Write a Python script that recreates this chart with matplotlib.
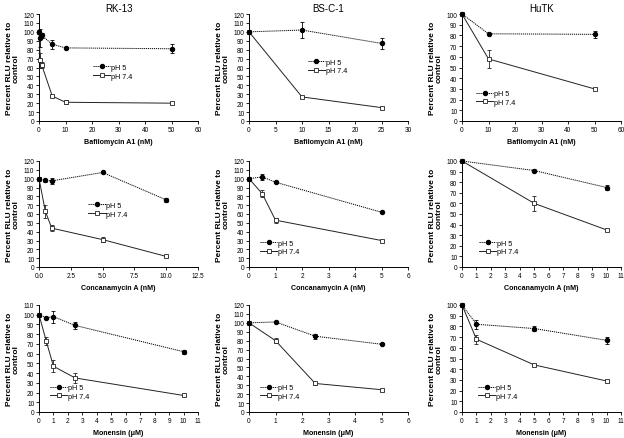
import numpy as np
import matplotlib
matplotlib.use("Agg")
import matplotlib.pyplot as plt

plt.rcParams['font.family'] = ['Liberation Sans', 'DejaVu Sans']

# ---- data ----
cells = ["RK-13", "BS-C-1", "HuTK"]
drugs = ["Bafilomycin A1 (nM)", "Concanamycin A (nM)", "Monensin (\u03bcM)"]
labels = ["pH 5", "pH 7.4"]

# row 1: bafilomycin A1
baf_rk_x = [0, 0.5, 1, 5, 10, 50]
baf_rk_ph5 = [100, 93.5, 96, 86, 82, 81]
baf_rk_ph5_err = [0, 10, 3, 5, 1, 5]
baf_rk_ph74 = [100, 68, 63, 28, 21, 20]
baf_rk_ph74_err = [0, 8, 3, 1, 2, 1]

baf_bs_x = [0, 10, 25]
baf_bs_ph5 = [100, 102, 87]
baf_bs_ph5_err = [0, 9, 6]
baf_bs_ph74 = [100, 27, 15]
baf_bs_ph74_err = [0, 1, 1]

baf_hu_x = [0, 10, 50]
baf_hu_ph5 = [100, 81.5, 81]
baf_hu_ph5_err = [0, 1, 3]
baf_hu_ph74 = [100, 58, 30]
baf_hu_ph74_err = [0, 8, 1]

# row 2: concanamycin A
con_rk_x = [0, 0.5, 1, 5, 10]
con_rk_ph5 = [100, 98, 97.5, 107, 76]
con_rk_ph5_err = [0, 2, 3, 1, 2]
con_rk_ph74 = [100, 63, 44, 31, 12]
con_rk_ph74_err = [0, 7, 3, 3, 1]

con_bs_x = [0, 0.5, 1, 5]
con_bs_ph5 = [100, 102, 96, 62]
con_bs_ph5_err = [0, 3, 1, 1]
con_bs_ph74 = [100, 83, 53, 30]
con_bs_ph74_err = [0, 4, 3, 1]

con_hu_x = [0, 5, 10]
con_hu_ph5 = [100, 91, 75]
con_hu_ph5_err = [0, 1, 2]
con_hu_ph74 = [100, 60, 35]
con_hu_ph74_err = [0, 7, 1]

# row 3: monensin
mon_rk_x = [0, 0.5, 1, 2.5, 10]
mon_rk_ph5 = [100, 97, 98, 89, 62]
mon_rk_ph5_err = [0, 1, 6, 4, 2]
mon_rk_ph74 = [100, 73, 47, 35, 17]
mon_rk_ph74_err = [0, 4, 6, 5, 1]

mon_bs_x = [0, 1, 2.5, 5]
mon_bs_ph5 = [100, 101, 85, 76]
mon_bs_ph5_err = [0, 1, 3, 1]
mon_bs_ph74 = [100, 80, 32, 25]
mon_bs_ph74_err = [0, 3, 2, 1]

mon_hu_x = [0, 1, 5, 10]
mon_hu_ph5 = [100, 82, 78, 67]
mon_hu_ph5_err = [0, 4, 2, 3]
mon_hu_ph74 = [100, 68, 44, 29]
mon_hu_ph74_err = [0, 4, 1, 1]

panels = [
    [(baf_rk_x, baf_rk_ph5, baf_rk_ph5_err, baf_rk_ph74, baf_rk_ph74_err),
     (baf_bs_x, baf_bs_ph5, baf_bs_ph5_err, baf_bs_ph74, baf_bs_ph74_err),
     (baf_hu_x, baf_hu_ph5, baf_hu_ph5_err, baf_hu_ph74, baf_hu_ph74_err)],
    [(con_rk_x, con_rk_ph5, con_rk_ph5_err, con_rk_ph74, con_rk_ph74_err),
     (con_bs_x, con_bs_ph5, con_bs_ph5_err, con_bs_ph74, con_bs_ph74_err),
     (con_hu_x, con_hu_ph5, con_hu_ph5_err, con_hu_ph74, con_hu_ph74_err)],
    [(mon_rk_x, mon_rk_ph5, mon_rk_ph5_err, mon_rk_ph74, mon_rk_ph74_err),
     (mon_bs_x, mon_bs_ph5, mon_bs_ph5_err, mon_bs_ph74, mon_bs_ph74_err),
     (mon_hu_x, mon_hu_ph5, mon_hu_ph5_err, mon_hu_ph74, mon_hu_ph74_err)],
]

# axis ranges: (xmax, xstep, ymax)
ranges = [
    [(60, 10, 120), (30, 5, 120), (60, 10, 100)],
    [(12.5, 2.5, 120), (6, 1, 120), (11, 1, 100)],
    [(11, 1, 110), (6, 1, 120), (11, 1, 100)],
]

# legend anchors in axes fraction (left of handle, centre of block)
legend_pos = [
    [(0.34, 0.46), (0.37, 0.51), (0.088, 0.215)],
    [(0.31, 0.54), (0.07, 0.184), (0.107, 0.184)],
    [(0.07, 0.187), (0.07, 0.187), (0.10, 0.187)],
]

W, H = 624, 439
col_left = [39, 249, 462]
row_top = [15, 162, 306]
row_bot = [122, 268, 413]
ax_w = 159


def main():
    fig = plt.figure(figsize=(W / 100, H / 100), dpi=100)
    for r in range(3):
        for c in range(3):
            left = col_left[c] / W
            bottom = 1 - row_bot[r] / H
            height = (row_bot[r] - row_top[r]) / H
            ax = fig.add_axes([left, bottom, ax_w / W, height])
            x, y5, e5, y74, e74 = panels[r][c]
            xmax, xstep, ymax = ranges[r][c]

            c74 = ax.errorbar(x, y74, yerr=e74, color='#222222', lw=0.7,
                              marker='s', ms=2.8, mfc='white', mec='#222222',
                              mew=0.6, elinewidth=0.6, capsize=1.6,
                              capthick=0.6, clip_on=False, zorder=3)
            c5 = ax.errorbar(x, y5, yerr=e5, color='black', lw=0.7,
                             ls=(0, (1.2, 0.9)), marker='o', ms=2.9,
                             mfc='black', mec='black', elinewidth=0.6,
                             capsize=1.6, capthick=0.6, clip_on=False,
                             zorder=4)

            ax.set_xlim(0, xmax)
            ax.set_ylim(0, ymax)
            xt = np.arange(0, xmax + xstep / 2, xstep)
            ax.set_xticks(xt)
            if xstep == 2.5:
                ax.set_xticklabels(["%.1f" % v for v in xt])
            else:
                ax.set_xticklabels(["%g" % v for v in xt])
            ax.set_yticks(np.arange(0, ymax + 1, 10))

            for s in ['top', 'right']:
                ax.spines[s].set_visible(False)
            for s in ['left', 'bottom']:
                ax.spines[s].set_linewidth(0.7)
            ax.tick_params(direction='out', length=2.2, width=0.6,
                           labelsize=4.7, pad=1.2)

            ax.set_xlabel(drugs[r], fontsize=5.1, fontweight='bold', labelpad=4)
            ax.set_ylabel("Percent RLU relative to\ncontrol", fontsize=6.0,
                          fontweight='bold', labelpad=2.5, linespacing=1.0)
            if r == 0:
                ax.set_title(cells[c], fontsize=7, pad=2)

            lx, ly = legend_pos[r][c]
            ax.legend([c5[0], c74[0]], labels, loc='center left',
                      bbox_to_anchor=(lx, ly), frameon=False, fontsize=5.2,
                      handlelength=2.4, handletextpad=0.1, labelspacing=0.25,
                      borderpad=0, borderaxespad=0, numpoints=1)

    fig.savefig("out.png", dpi=100)


if __name__ == '__main__':
    main()
